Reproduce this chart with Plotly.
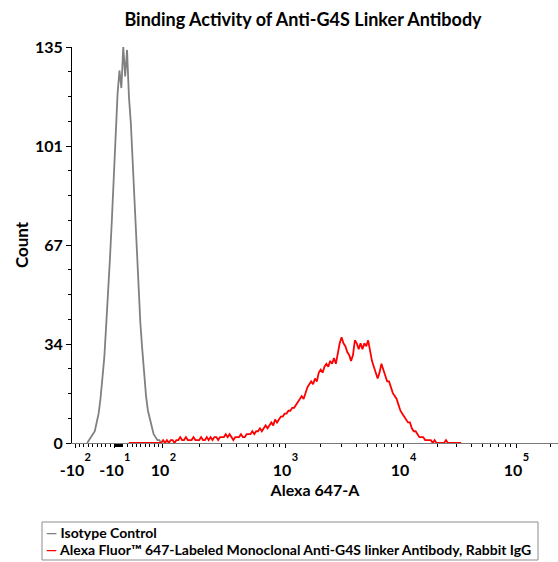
import numpy as np
import plotly.graph_objects as go

# ---------------- data (histogram counts per display channel) ----------------
N_CHANNELS = 256

ISOTYPE_START = 8
ISOTYPE_COUNTS = [0, 1, 2, 3, 4, 7, 10, 15, 22, 29, 40, 50, 63, 76, 92, 104,
                  119, 127, 121, 135, 125, 134, 118, 109, 95, 81, 66, 54, 41,
                  32, 23, 16, 11, 8, 5, 3, 2, 1, 1, 0]

ANTIBODY_START = 30
ANTIBODY_COUNTS = [0] * 16 + [
    0, 0, 1, 0, 1, 0, 1, 1, 0, 1, 1, 2, 1, 1, 2, 1, 1, 1, 2, 1,
    1, 1, 2, 1, 1, 2, 1, 2, 1, 2, 2, 1, 2, 2, 2, 3, 2, 3, 2, 1,
    2, 2, 2, 3, 2, 2, 3, 3, 3, 4, 3, 4, 4, 5, 4, 5, 6, 5, 6, 7,
    6, 8, 7, 8, 9, 9, 10, 10, 11, 11, 12, 12, 13, 14, 15, 16, 15, 17, 19, 20,
    21, 20, 22, 21, 24, 25, 24, 26, 27, 26, 28, 27, 29, 27, 31, 34, 36, 34, 33, 31,
    30, 28, 30, 35, 34, 32, 34, 32, 34, 33, 35, 31, 28, 26, 24, 22, 24, 27, 25, 23,
    21, 21, 19, 17, 16, 15, 13, 11, 10, 9, 8, 7, 7, 5, 4, 4, 3, 2, 2, 2,
    1, 1, 1, 1, 0, 1, 0, 0, 0, 0, 0, 1, 0, 0, 0, 0, 0, 0, 0, 0]

SERIES_NAMES = ["Isotype Control",
                "Alexa Fluor™ 647-Labeled Monoclonal Anti-G4S linker Antibody, Rabbit IgG"]
SERIES_COLORS = ["#808080", "#ff0000"]

# axis scale: fluorescence value -> display channel (biexponential display)
DECADE_VALUES = [-100, 100, 1e3, 1e4, 1e5]
DECADE_CHANNELS = [1.6, 47.9, 112.2, 174.4, 233.9]
MAJOR_VALUES = [-100, -10, 100, 1e3, 1e4, 1e5]
MAJOR_BASES = ["-10", "-10", "10", "10", "10", "10"]
MAJOR_EXPONENTS = ["2", "1", "2", "3", "4", "5"]

Y_MAX = 135
Y_TICKS = [0, 33.75, 67.5, 101.25, 135]
Y_LABELS = ["0", "34", "67", "101", "135"]

PX_PER_CHANNEL = 486 / N_CHANNELS


def to_channel(v):
    if -100 <= v <= 100:
        return float(np.interp(v, [-100, 100], DECADE_CHANNELS[:2]))
    lv = np.log10(v)
    logs = [2, 3, 4, 5]
    ch = DECADE_CHANNELS[1:]
    if lv > 5:
        return ch[-1] + (ch[-1] - ch[-2]) * (lv - 5)
    return float(np.interp(lv, logs, ch))


minor_vals = []
for m in list(range(-90, -10, 10)) + list(range(-9, 0)) + list(range(1, 10)) + list(range(20, 100, 10)):
    minor_vals.append(to_channel(m))
for k in [2, 3, 4, 5]:
    for m in range(2, 10):
        c = to_channel(m * 10 ** k)
        if c <= N_CHANNELS:
            minor_vals.append(c)

major_ch = [to_channel(v) for v in MAJOR_VALUES]
# exponent labels sit just right of their base ("10" / "-10")
exp_ch = [c + (12.6 if b.startswith("-") else 10.0) / PX_PER_CHANNEL
          for c, b in zip(major_ch, MAJOR_BASES)]

iso_x = np.arange(ISOTYPE_START, ISOTYPE_START + len(ISOTYPE_COUNTS))
ab_x = np.arange(ANTIBODY_START, ANTIBODY_START + len(ANTIBODY_COUNTS))

fig = go.Figure()
fig.add_trace(go.Scatter(x=iso_x, y=ISOTYPE_COUNTS, mode="lines", name=SERIES_NAMES[0],
                         line=dict(color=SERIES_COLORS[0], width=1.8), showlegend=False))
fig.add_trace(go.Scatter(x=ab_x, y=ANTIBODY_COUNTS, mode="lines", name=SERIES_NAMES[1],
                         xaxis="x2", yaxis="y",
                         line=dict(color=SERIES_COLORS[1], width=1.8), showlegend=False))

FONT = "Lato"

fig.update_layout(
    width=558, height=562,
    margin=dict(l=72, r=0, t=47, b=119),
    paper_bgcolor="white", plot_bgcolor="white",
    font=dict(family=FONT, color="black", size=15, weight="bold"),
    title=dict(text="Binding Activity of Anti-G4S Linker Antibody",
               x=303 / 558, xref="container", xanchor="center",
               y=1 - 20 / 562, yref="container", yanchor="middle",
               font=dict(family=FONT, size=18, weight="bold", color="black")),
    xaxis=dict(range=[0, N_CHANNELS], showgrid=False, zeroline=False,
               showline=True, linecolor="#7a7a7a", linewidth=1,
               ticks="outside", ticklen=4, tickcolor="black", tickwidth=1,
               tickmode="array", tickvals=major_ch, ticktext=MAJOR_BASES,
               tickangle=0, ticklabelstandoff=9, ticklabelshift=-3,
               tickfont=dict(family=FONT, size=16, weight="bold"),
               minor=dict(tickmode="array", tickvals=minor_vals, ticks="outside",
                          ticklen=3, tickcolor="black", tickwidth=1),
               title=dict(text="Alexa 647-A", standoff=6,
                          font=dict(family=FONT, size=16, weight="bold"))),
    xaxis2=dict(range=[0, N_CHANNELS], overlaying="x", anchor="y", side="bottom",
                showgrid=False, zeroline=False, showline=False, ticks="",
                tickmode="array", tickvals=exp_ch, ticktext=MAJOR_EXPONENTS,
                tickangle=0, ticklabelstandoff=6,
                tickfont=dict(family=FONT, size=11, weight="bold")),
    yaxis=dict(range=[0, Y_MAX], showgrid=False, zeroline=False,
               showline=True, linecolor="black", linewidth=1,
               ticks="outside", ticklen=5, tickcolor="black", tickwidth=1,
               tickmode="array", tickvals=Y_TICKS, ticktext=Y_LABELS,
               tickfont=dict(family=FONT, size=16, weight="bold"),
               minor=dict(dtick=Y_MAX / 16, ticks="outside", ticklen=3,
                          tickcolor="black", tickwidth=1),
               title=dict(text="Count", standoff=2,
                          font=dict(family=FONT, size=17, weight="bold"))),
)

# legend box (custom, to match short line samples)
PLOT_L, PLOT_W, PLOT_B, PLOT_H = 72, 486, 443, 396


def px_x(p):
    return (p - PLOT_L) / PLOT_W


def px_y(p):
    return (PLOT_B - p) / PLOT_H


fig.add_shape(type="rect", xref="paper", yref="paper",
              x0=px_x(42), x1=px_x(538), y0=px_y(522), y1=px_y(560),
              line=dict(color="#8c8c8c", width=1), fillcolor="white")
for i, (name, col) in enumerate(zip(SERIES_NAMES, SERIES_COLORS)):
    fig.add_annotation(xref="paper", yref="paper", x=px_x(44), y=px_y(532 + 17 * i),
                       xanchor="left", yanchor="middle", showarrow=False,
                       text=f"<span style='color:{col}'>—</span> {name}",
                       font=dict(family=FONT, size=14, weight="bold", color="black"))

fig.write_html("out.html")
